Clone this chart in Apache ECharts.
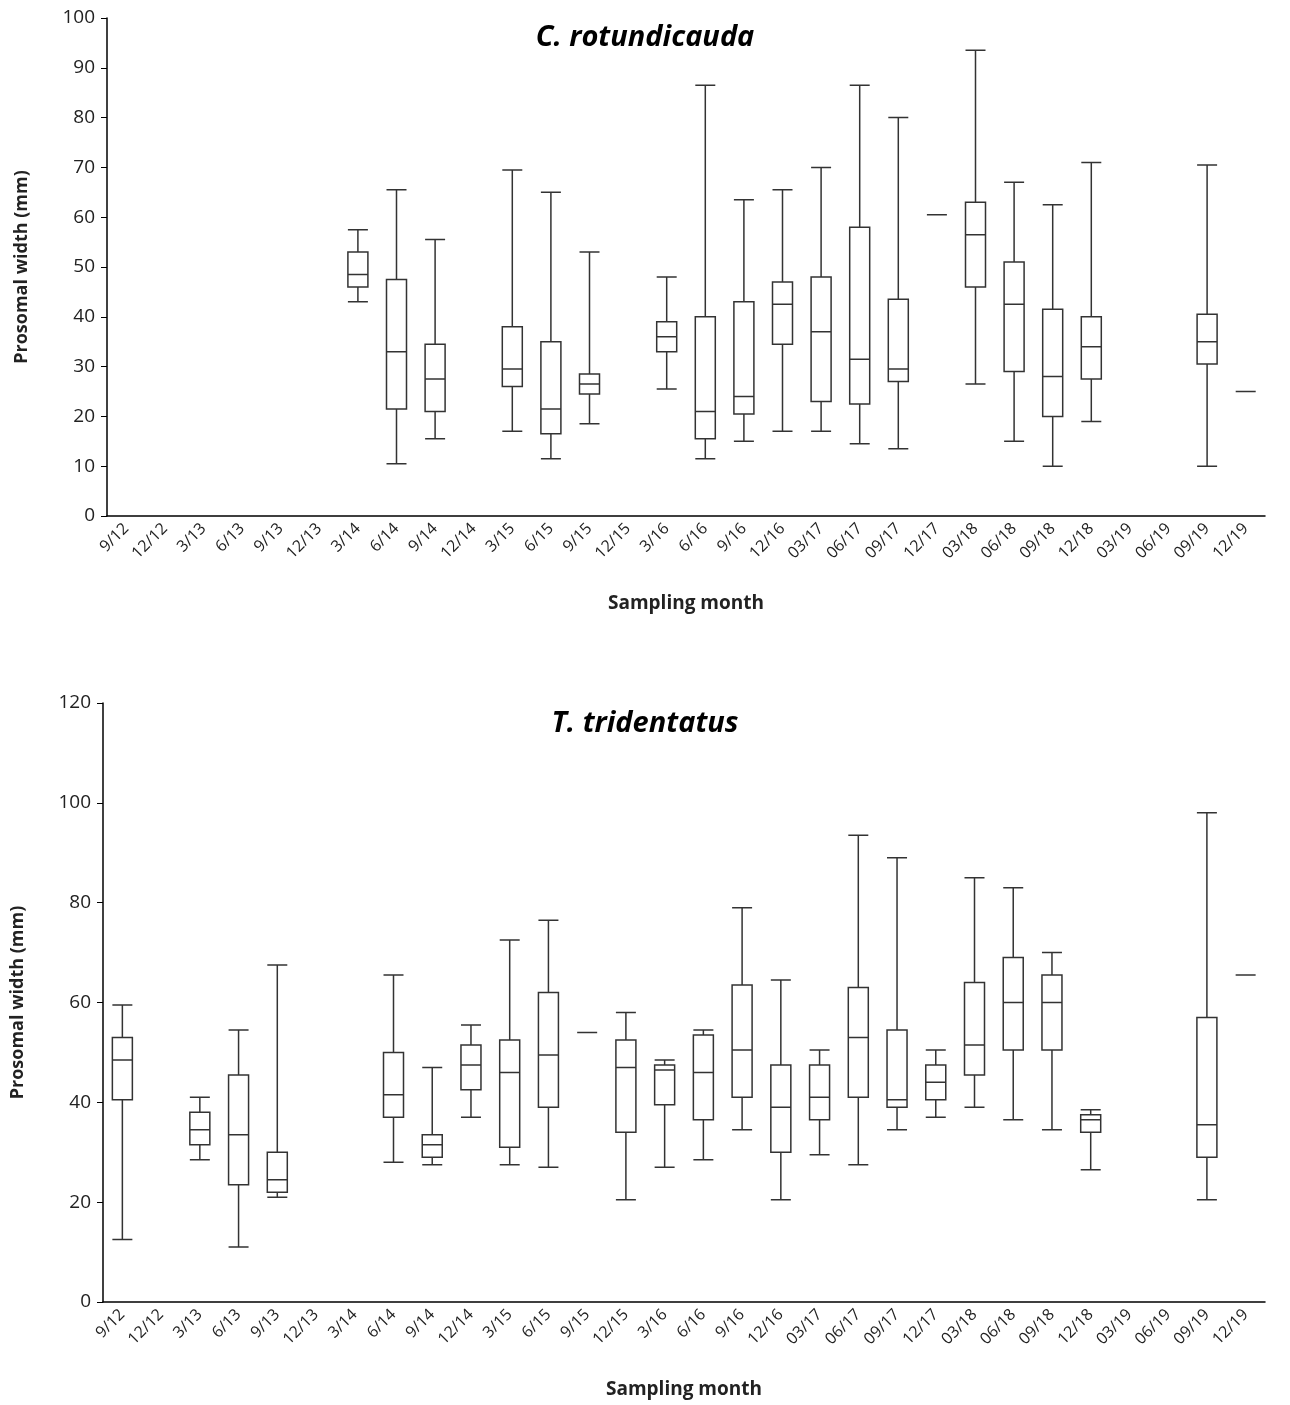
<!DOCTYPE html>
<html><head><meta charset="utf-8">
<script src="https://cdn.jsdelivr.net/npm/echarts@6/dist/echarts.min.js"></script>
<style>html,body{margin:0;background:#fff}#c{width:1290px;height:1405px}</style>
</head><body><div id="c"></div>
<script>
const categoriesTop = ['9/12','12/12','3/13','6/13','9/13','12/13','3/14','6/14','9/14','12/14','3/15','6/15','9/15','12/15','3/16','6/16','9/16','12/16','03/17','06/17','09/17','12/17','03/18','06/18','09/18','12/18','03/19','06/19','09/19','12/19'];
const categoriesBottom = categoriesTop.slice();
// [min, Q1, median, Q3, max]
const rotundicauda = {
 '3/14':[43,46,48.5,53,57.5],'6/14':[10.5,21.5,33,47.5,65.5],'9/14':[15.5,21,27.5,34.5,55.5],
 '3/15':[17,26,29.5,38,69.5],'6/15':[11.5,16.5,21.5,35,65],'9/15':[18.5,24.5,26.5,28.5,53],
 '3/16':[25.5,33,36,39,48],'6/16':[11.5,15.5,21,40,86.5],'9/16':[15,20.5,24,43,63.5],
 '12/16':[17,34.5,42.5,47,65.5],'03/17':[17,23,37,48,70],'06/17':[14.5,22.5,31.5,58,86.5],
 '09/17':[13.5,27,29.5,43.5,80],'12/17':[60.5,60.5,60.5,60.5,60.5],'03/18':[26.5,46,56.5,63,93.5],
 '06/18':[15,29,42.5,51,67],'09/18':[10,20,28,41.5,62.5],'12/18':[19,27.5,34,40,71],
 '09/19':[10,30.5,35,40.5,70.5],'12/19':[25,25,25,25,25]
};
const tridentatus = {
 '9/12':[12.5,40.5,48.5,53,59.5],'3/13':[28.5,31.5,34.5,38,41],'6/13':[11,23.5,33.5,45.5,54.5],
 '9/13':[21,22,24.5,30,67.5],'6/14':[28,37,41.5,50,65.5],'9/14':[27.5,29,31.5,33.5,47],
 '12/14':[37,42.5,47.5,51.5,55.5],'3/15':[27.5,31,46,52.5,72.5],'6/15':[27,39,49.5,62,76.5],
 '9/15':[54,54,54,54,54],'12/15':[20.5,34,47,52.5,58],'3/16':[27,39.5,46.5,47.5,48.5],
 '6/16':[28.5,36.5,46,53.5,54.5],'9/16':[34.5,41,50.5,63.5,79],'12/16':[20.5,30,39,47.5,64.5],
 '03/17':[29.5,36.5,41,47.5,50.5],'06/17':[27.5,41,53,63,93.5],'09/17':[34.5,39,40.5,54.5,89],
 '12/17':[37,40.5,44,47.5,50.5],'03/18':[39,45.5,51.5,64,85],'06/18':[36.5,50.5,60,69,83],
 '09/18':[34.5,50.5,60,65.5,70],'12/18':[26.5,34,36.5,37.5,38.5],'09/19':[20.5,29,35.5,57,98],
 '12/19':[65.5,65.5,65.5,65.5,65.5]
};
const toData=(cats,obj)=>cats.map(c=>obj[c]?obj[c]:'-');
const font='"Open Sans", "Noto Sans", Arial, sans-serif';
function xAxis(idx,cats){return {type:'category',gridIndex:idx,data:cats,boundaryGap:true,
 axisLine:{lineStyle:{color:'#000',width:1.5}},axisTick:{length:6,lineStyle:{color:'#000'}},
 axisLabel:{rotate:45,color:'#222',fontSize:16,fontFamily:font,interval:0,margin:10},
 name:'Sampling month',nameLocation:'middle',nameGap:78,nameTextStyle:{fontWeight:'bold',fontSize:19,color:'#222',fontFamily:font}};}
function yAxis(idx,max,interval){return {type:'value',gridIndex:idx,min:0,max:max,interval:interval,
 axisLine:{show:true,lineStyle:{color:'#000',width:1.5}},axisTick:{show:true,length:6,lineStyle:{color:'#000'}},splitLine:{show:false},
 axisLabel:{color:'#222',fontSize:19,fontFamily:font,margin:12},
 name:'Prosomal width (mm)',nameLocation:'middle',nameGap:76,nameTextStyle:{fontWeight:'bold',fontSize:18,color:'#222',fontFamily:font}};}
const chart=echarts.init(document.getElementById('c'));
const bstyle={color:'#fff',borderColor:'#333',borderWidth:1.5};
chart.setOption({
 animation:false,
 title:[{text:'C. rotundicauda',left:640,top:18,textAlign:'center',textStyle:{fontStyle:'italic',fontWeight:'bold',fontSize:29,fontFamily:font,color:'#000'}},
        {text:'T. tridentatus',left:640,top:704,textAlign:'center',textStyle:{fontStyle:'italic',fontWeight:'bold',fontSize:29,fontFamily:font,color:'#000'}}],
 grid:[{left:107,right:25,top:18,height:498},{left:103,right:25,top:703,height:599}],
 xAxis:[xAxis(0,categoriesTop),xAxis(1,categoriesBottom)],
 yAxis:[yAxis(0,100,10),yAxis(1,120,20)],
 series:[
  {type:'boxplot',xAxisIndex:0,yAxisIndex:0,boxWidth:[20,20],itemStyle:bstyle,data:toData(categoriesTop,rotundicauda)},
  {type:'boxplot',xAxisIndex:1,yAxisIndex:1,boxWidth:[20,20],itemStyle:bstyle,data:toData(categoriesBottom,tridentatus)}
 ]
});
</script></body></html>
